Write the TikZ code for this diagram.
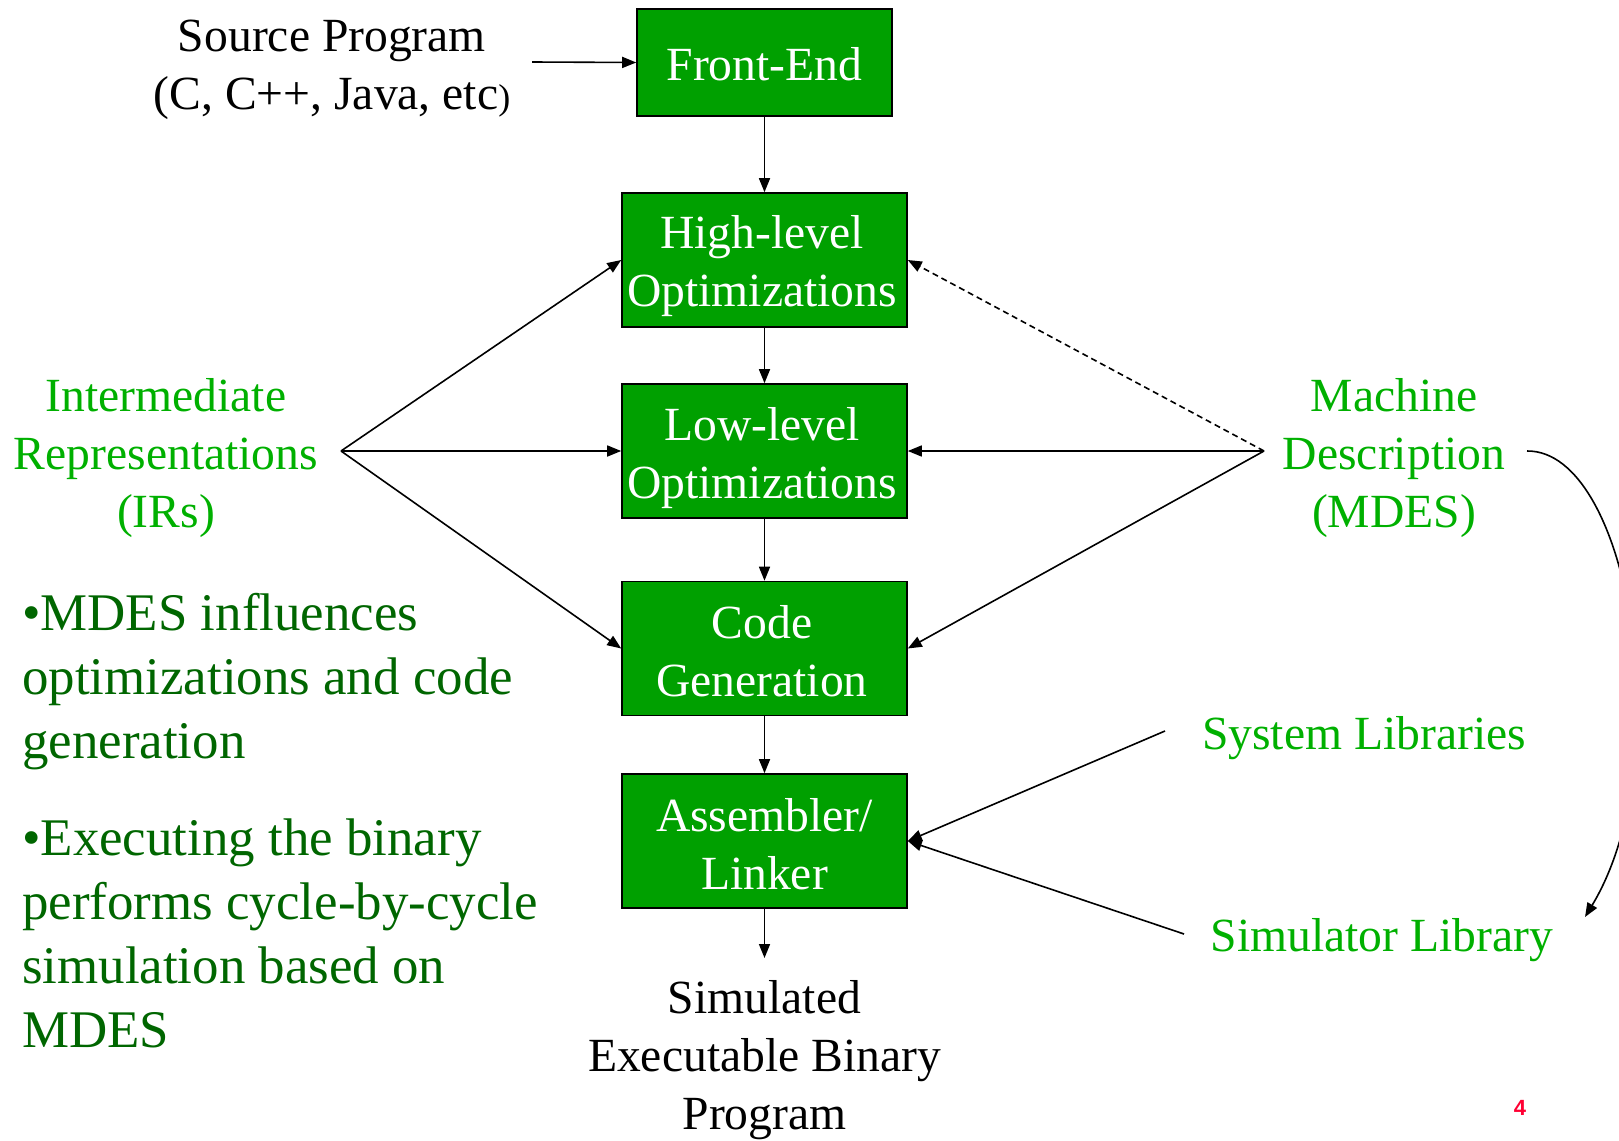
\documentclass[tikz,border=0pt]{standalone}
\usepackage{fontspec}
\setmainfont{Liberation Serif}
\newfontfamily\arialfont{Liberation Sans}
\usetikzlibrary{arrows.meta}
\definecolor{boxgreen}{HTML}{00A000}
\definecolor{labelgreen}{HTML}{00B000}
\definecolor{notegreen}{HTML}{006600}
\definecolor{pagered}{HTML}{FF0033}
\begin{document}
\begin{tikzpicture}[x=1pt,y=-1pt,
  stage/.style={draw=black, line width=1.6pt, fill=boxgreen,
    minimum width=285pt, minimum height=134pt, inner sep=0pt},
  stagetext/.style={text=white, align=center,
    font=\fontsize{47.6}{58}\selectfont, inner sep=0pt},
  lbl/.style={text=labelgreen, align=center,
    font=\fontsize{47.6}{58}\selectfont, inner sep=0pt},
  plain/.style={text=black, align=center,
    font=\fontsize{47.6}{58}\selectfont, inner sep=0pt},
  note/.style={text=notegreen, align=left, anchor=west,
    font=\fontsize{52.9}{64}\selectfont, inner sep=0pt},
  flow/.style={line width=1.6pt, -{Triangle[length=14pt,width=11pt]}},
]
\useasboundingbox (0,0) rectangle (1619,1140);

% compiler pipeline stages
\node[stage, minimum width=255pt, minimum height=107pt] (fe) at (764.5,62.5) {};
\node[stage] (hl) at (764.5,260) {};
\node[stage] (ll) at (764.5,451) {};
\node[stage] (cg) at (764.5,648.5) {};
\node[stage] (as) at (764.5,841) {};

\node[stagetext] (fetext) at (764.5,64) {Front-End};
\node[stagetext] (hltext) at (762,266.5) {High-level\\Optimizations};
\node[stagetext] (lltext) at (762,458.5) {Low-level\\Optimizations};
\node[stagetext] (cgtext) at (762,651.5) {Code\\Generation};
\node[stagetext] (astext) at (764.5,844) {Assembler/\\Linker};

\draw[flow] (fe.south) -- (hl.north);
\draw[flow] (hl.south) -- (ll.north);
\draw[flow] (ll.south) -- (cg.north);
\draw[flow] (cg.south) -- (as.north);

% input program
\node[plain] (src) at (332,70) {Source Program\\(C, C++, Java, etc{\fontsize{36}{36}\selectfont)}};
\coordinate (srcout) at (532,62);
\draw[flow] (srcout) -- (fe.west);

% output binary
\node[plain] (bin) at (764.5,1060) {Simulated\\Executable Binary\\Program};
\coordinate (binin) at (764.5,958);
\draw[flow] (as.south) -- (binin);

% intermediate representations
\node[lbl] (ir) at (166,458) {Intermediate\\Representations\\(IRs)};
\coordinate (irhub) at (341,451);
\draw[flow] (irhub) -- (hl.west);
\draw[flow] (irhub) -- (ll.west);
\draw[flow] (irhub) -- (cg.west);

% machine description
\node[lbl] (md) at (1394,458) {Machine\\Description\\(MDES)};
\coordinate (mdhub) at (1264,451);
\draw[flow, dash pattern=on 6pt off 4pt] (mdhub) -- (hl.east);
\draw[flow] (mdhub) -- (ll.east);
\draw[flow] (mdhub) -- (cg.east);

% libraries linked in
\node[lbl] (syslib) at (1364,738) {System Libraries};
\node[lbl] (simlib) at (1382,940) {Simulator Library};
\coordinate (sysout) at (1165,731);
\coordinate (simout) at (1184,934);
\draw[flow] (sysout) -- (as.east);
\draw[flow] (simout) -- (as.east);

% MDES feeds the simulator library
\coordinate (mdcurve) at (1527,451);
\coordinate (simcurve) at (1585,917);
\draw[flow] (mdcurve) .. controls (1630,450) and (1680,760) .. (simcurve);

% notes
\node[note] (n1) at (22,682) {•MDES influences\\optimizations and code\\generation};
\node[note] (n2) at (22,933) {•Executing the binary\\performs cycle-by-cycle\\simulation based on\\MDES};

% slide number
\node[text=pagered, inner sep=0pt, font=\arialfont\bfseries\fontsize{22}{22}\selectfont] (pg) at (1520,1108) {4};
\end{tikzpicture}
\end{document}
